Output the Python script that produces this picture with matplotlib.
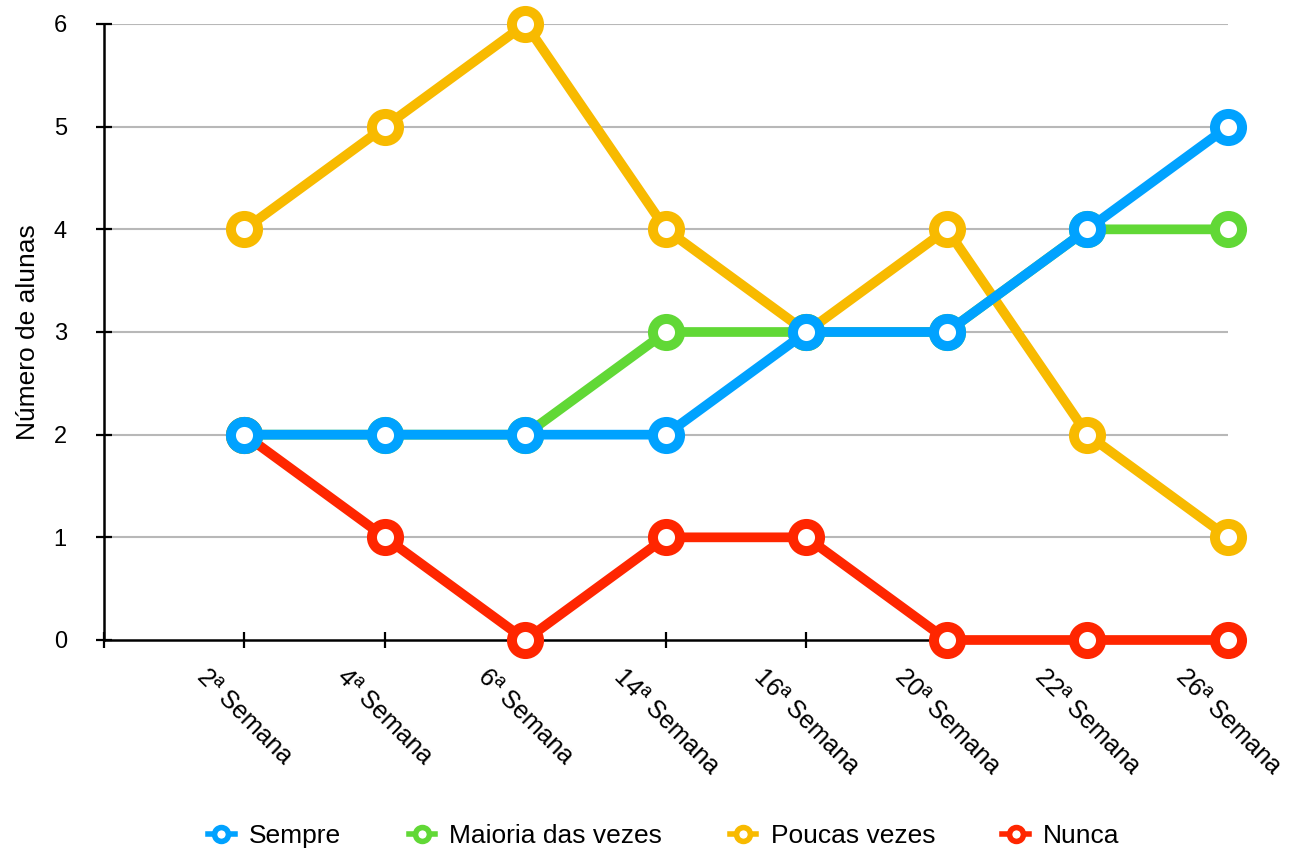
import matplotlib
matplotlib.use("Agg")
import matplotlib.pyplot as plt
from matplotlib.lines import Line2D

categories = ["2ª Semana", "4ª Semana", "6ª Semana", "14ª Semana",
              "16ª Semana", "20ª Semana", "22ª Semana", "26ª Semana"]
sempre = [2, 2, 2, 2, 3, 3, 4, 5]
maioria = [2, 2, 2, 3, 3, 3, 4, 4]
poucas = [4, 5, 6, 4, 3, 4, 2, 1]
nunca = [2, 1, 0, 1, 1, 0, 0, 0]
series_names = ["Sempre", "Maioria das vezes", "Poucas vezes", "Nunca"]
colors = ["#00A2FF", "#61D836", "#F8BA00", "#FF2600"]

plt.rcParams['font.family'] = ['Liberation Sans', 'DejaVu Sans']

fig = plt.figure(figsize=(12.89, 8.51), dpi=100)
ax = fig.add_axes([104/1289, 1-640/851, (1228-104)/1289, (640-24)/851])

x = list(range(1, len(categories)+1))
data = [sempre, maioria, poucas, nunca]
zorders = [6, 5, 4, 3]
for vals, c, z, name in zip(data, colors, zorders, series_names):
    ax.plot(x, vals, color=c, lw=7, marker='o', ms=19.5, mew=7.2,
            mfc='white', mec=c, zorder=z, clip_on=False, label=name,
            solid_capstyle='round')

ax.set_xlim(0, 8)
ax.set_ylim(0, 6)
ax.set_yticks(range(0, 7))
ax.set_xticks(range(0, 9))
ax.set_xticklabels([""] + categories)
for lbl in ax.get_xticklabels():
    lbl.set_rotation(-45)
    lbl.set_ha('center')
    lbl.set_va('top')
    lbl.set_fontsize(18)

for s in ['top', 'right']:
    ax.spines[s].set_visible(False)
for s in ['left', 'bottom']:
    ax.spines[s].set_linewidth(1.8)
    ax.spines[s].set_color('black')
    ax.spines[s].set_zorder(2)

ax.tick_params(axis='y', direction='inout', length=11.5, width=1.6,
               pad=21, labelsize=17)
ax.tick_params(axis='x', direction='inout', length=11, width=1.6,
               pad=12)

for yv in range(1, 7):
    ax.axhline(yv, color='#b8b8b8', lw=1.5, zorder=1)

ax.set_ylabel("Número de alunas", fontsize=19, labelpad=10)

handles = [Line2D([0], [0], color=c, lw=4, marker='o', ms=10, mew=4,
                  mfc='white', mec=c) for c in colors]
fig.legend(handles, series_names, loc='center',
           bbox_to_anchor=(664/1289, 1-836/851), ncol=4, frameon=False,
           fontsize=19, handlelength=1.0, handletextpad=0.55,
           columnspacing=2.55)

fig.savefig("out.png", dpi=100)
